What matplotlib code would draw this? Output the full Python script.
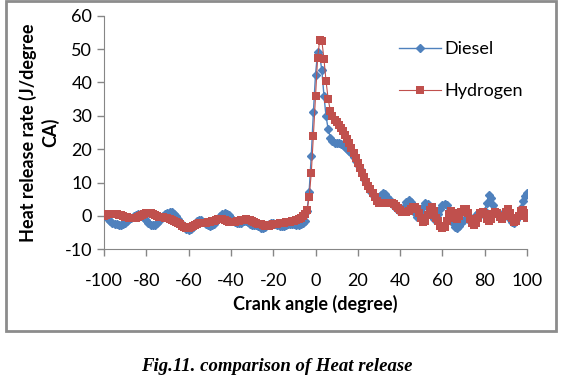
import numpy as np
import matplotlib
matplotlib.use("Agg")
from matplotlib import pyplot as plt
from matplotlib.patches import Rectangle

# crank angle, 1 degree steps
crank_angle = np.arange(-100, 101)

# heat release rate (J/degree CA)
diesel = [
    0.5, 0, -0.8, -1.5, -2, -2.3, -2.5, -2.6, -2.6, -2.4,
    -2, -1.5, -1, -0.5, 0, 0.3, 0.5, 0.4, 0, -0.6,
    -1.3, -2, -2.6, -2.8, -2.7, -2.2, -1.5, -0.7, 0, 0.6,
    1, 1.2, 1.1, 0.7, 0, -0.8, -1.7, -2.6, -3.4, -4,
    -4.3, -4, -3.4, -2.5, -1.6, -1.1, -1.2, -1.7, -2.3, -2.8,
    -3, -2.8, -2.3, -1.6, -0.8, -0.1, 0.5, 0.8, 0.7, 0.2,
    -0.5, -1.2, -1.8, -2.1, -2.2, -2, -1.6, -1.5, -1.8, -2.3,
    -2.6, -2.7, -2.8, -3.1, -3.5, -3.6, -3.3, -2.8, -2.3, -2.1,
    -2.2, -2.5, -2.8, -3, -3.1, -3, -2.8, -2.5, -2.3, -2.3,
    -2.5, -2.7, -2.7, -2.4, -2, -1.5, 1.5, 7.3, 18, 31,
    42.3, 49, 48, 43.6, 36, 29.8, 26, 23.5, 22.5, 22,
    22, 21.8, 21.5, 21.2, 20.8, 20.2, 19.6, 18.8, 17.8, 16.6,
    15.3, 14, 12.6, 11.2, 9.9, 8.6, 7.5, 6.3, 5.3, 5,
    5.5, 6.3, 6.8, 6.5, 5.8, 4.8, 3.8, 3, 2.4, 1.9,
    1.5, 1.6, 2.8, 4.2, 4.8, 4.2, 2.5, 0.8, -0.2, 0,
    1.2, 2.8, 3.8, 3.5, 2.2, 0.5, -0.8, -1, 0.5, 2.2,
    3.4, 3.5, 3.4, 1.5, -0.5, -2.2, -3.3, -3.7, -3, -2,
    -1.2, -0.5, -0.8, -1.5, -1.8, -1, 0.2, 1, 0.8, 0.5,
    1.5, 4, 6.3, 5.5, 3.4, 1.5, 0.5, 0, 0.3, 1.2,
    1, 0, -1, -1.8, -2, -1.2, 0.5, 2.5, 4.4, 6, 7,
]
hydrogen = [
    0, 0.2, 0.5, 0.6, 0.6, 0.6, 0.5, 0.4, 0.2, 0,
    -0.2, -0.4, -0.6, -0.7, -0.7, -0.5, -0.2, 0.1, 0.4, 0.7,
    0.9, 1, 0.9, 0.6, 0.3, 0, -0.2, -0.3, -0.4, -0.5,
    -0.7, -1, -1.3, -1.6, -1.9, -2.2, -2.5, -2.9, -3.3, -3.6,
    -3.7, -3.4, -3, -2.6, -2.3, -2.1, -2, -2, -2, -1.9,
    -1.8, -1.6, -1.4, -1.2, -1, -0.9, -1, -1.2, -1.5, -1.7,
    -1.8, -1.8, -1.7, -1.6, -1.5, -1.3, -1.1, -1, -1.1, -1.3,
    -1.6, -1.9, -2.1, -2.3, -2.5, -2.7, -2.9, -3, -2.9, -2.7,
    -2.5, -2.4, -2.3, -2.2, -2.1, -2, -1.9, -1.8, -1.7, -1.6,
    -1.5, -1.2, -0.9, -0.5, 0, 0.6, 1.8, 5.6, 12.8, 24,
    36, 47.4, 52.8, 52.5, 47, 40.3, 35, 31.5, 30, 28.8,
    28, 27.2, 26.3, 25.4, 24.4, 23.2, 21.8, 20.4, 19, 17.5,
    16, 14.5, 13, 11.6, 10.3, 9.1, 8, 6.8, 5.6, 4.6,
    4, 4, 4, 4, 4, 4, 3.9, 3.6, 3, 2.4,
    1.8, 1.3, 1.2, 1.2, 1.6, 2.2, 2.6, 2.6, 2.2, 1,
    -0.5, -1.8, -1.5, 0.2, 1.8, 2.8, 1.5, -0.5, -1.5, -3,
    -3.5, -3.3, -1.5, 0.5, 1.5, 0.8, -0.5, -1, 0, 1.2,
    2.2, 2.2, 0.8, -0.8, -2.2, -2.8, -2, -0.5, 0.8, 1.2,
    0.5, -0.8, -1.5, -0.8, 0.5, 1.2, 0.8, -0.2, -0.8, 0,
    1.2, 2, 1, -0.5, -1.8, -1.5, 0, 1.5, 1.8, 1, -0.5,
]

xticks = list(range(-100, 101, 20))
yticks = list(range(-10, 61, 10))

plt.rcParams['font.family'] = ['Lato', 'DejaVu Sans']
plt.rcParams['axes.unicode_minus'] = False

fig = plt.figure(figsize=(5.74, 3.92), dpi=100)

# chart frame
fig.patches.append(Rectangle((0.011, 0.156), 0.958, 0.841, transform=fig.transFigure,
                             fill=False, edgecolor='#8c8c8c', linewidth=2))

ax = fig.add_axes([104/574, 1 - 249.3/392, 423/574, (249.3 - 15.7)/392])

ax.plot(crank_angle, diesel, color='#4F81BD', marker='D', markersize=4.5,
        linewidth=1, label='Diesel', zorder=3)
ax.plot(crank_angle, hydrogen, color='#C0504D', marker='s', markersize=5.5,
        linewidth=0.8, markeredgewidth=0, label='Hydrogen', zorder=4)

ax.set_xlim(-100, 100)
ax.set_ylim(-10, 60)
ax.set_xticks(xticks)
ax.set_yticks(yticks)
for side in ['top', 'right']:
    ax.spines[side].set_visible(False)
for side in ['left', 'bottom']:
    ax.spines[side].set_color('#868686')
ax.tick_params(colors='#868686', labelcolor='black', labelsize=13, length=5, width=1)
ax.tick_params(axis='x', pad=12)

ax.set_xlabel('Crank angle (degree)', fontsize=13, fontweight='bold', labelpad=4)
ax.set_ylabel('Heat release rate (J/degree\nCA)', fontsize=13, fontweight='bold',
              labelpad=4, linespacing=1.3)

ax.legend(loc='upper left', bbox_to_anchor=(0.66, 0.96), frameon=False, fontsize=13,
          handlelength=2.3, labelspacing=1.45, handletextpad=0.2)

fig.text(0.483, 0.066, 'Fig.11. comparison of Heat release', family='Liberation Serif',
         fontsize=13.5, fontweight='bold', style='italic', ha='center', va='center')

fig.savefig('out.png', dpi=100)
